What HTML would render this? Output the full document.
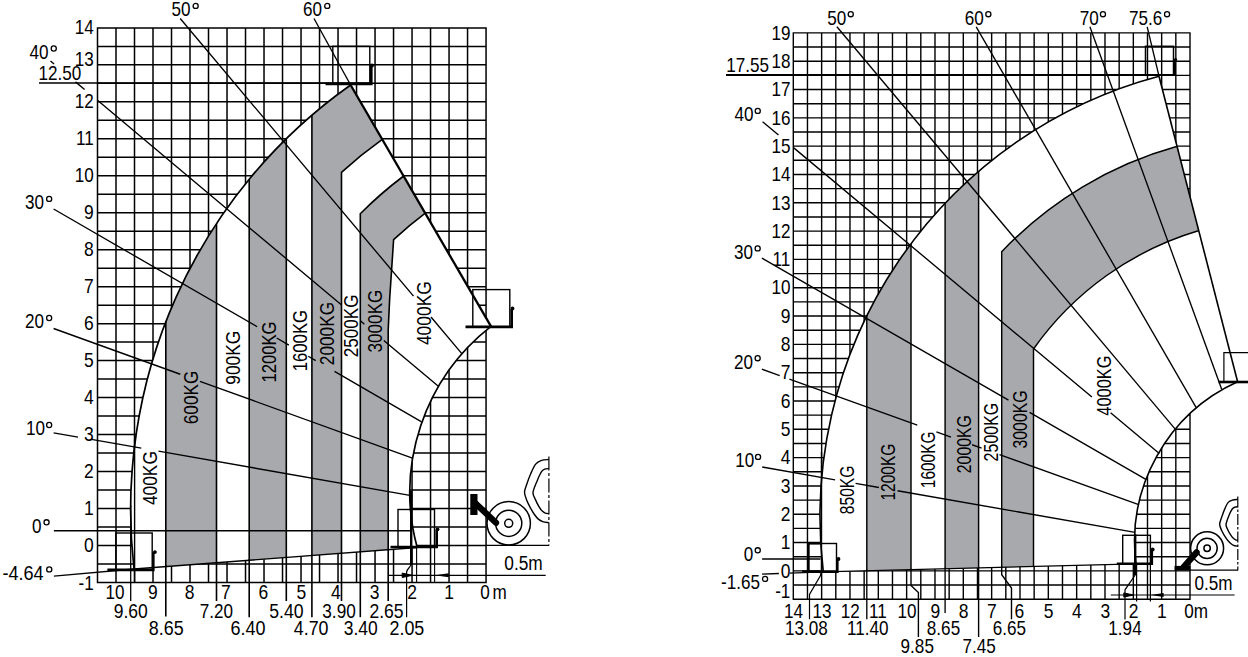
<!DOCTYPE html>
<html><head><meta charset="utf-8"><title>Load charts</title>
<style>html,body{margin:0;padding:0;background:#fff}svg{display:block}text{font-family:"Liberation Sans",sans-serif;font-size:18.8px}</style>
</head><body>
<svg width="1248" height="657" viewBox="0 0 1248 657" fill="none" stroke="#000" stroke-linecap="butt">
<path d="M97.5 27.9V582.4M116 27.9V582.4M134.5 27.9V582.4M153.01 27.9V582.4M171.51 27.9V582.4M190.01 27.9V582.4M208.51 27.9V582.4M227.02 27.9V582.4M245.52 27.9V582.4M264.02 27.9V582.4M282.52 27.9V582.4M301.03 27.9V582.4M319.53 27.9V582.4M338.03 27.9V582.4M356.53 27.9V582.4M375.04 27.9V582.4M393.54 27.9V582.4M412.04 27.9V582.4M430.54 27.9V582.4M449.05 27.9V582.4M467.55 27.9V582.4M486.05 27.9V582.4M97.5 27.9H486.05M97.5 46.38H486.05M97.5 64.87H486.05M97.5 83.35H486.05M97.5 101.83H486.05M97.5 120.32H486.05M97.5 138.8H486.05M97.5 157.28H486.05M97.5 175.77H486.05M97.5 194.25H486.05M97.5 212.73H486.05M97.5 231.22H486.05M97.5 249.7H486.05M97.5 268.18H486.05M97.5 286.67H486.05M97.5 305.15H486.05M97.5 323.63H486.05M97.5 342.12H486.05M97.5 360.6H486.05M97.5 379.08H486.05M97.5 397.57H486.05M97.5 416.05H486.05M97.5 434.53H486.05M97.5 453.02H486.05M97.5 471.5H486.05M97.5 489.98H486.05M97.5 508.47H486.05M97.5 526.95H486.05M97.5 545.43H486.05M97.5 563.92H486.05M97.5 582.4H486.05" stroke-width="1.5" stroke-linecap="square"/>
<clipPath id="cl"><path d="M350.6 85A520.2 520.2 0 0 0 134 569L417.2 547.5A210.7 210.7 0 0 1 491 326.3Z"/></clipPath>
<path d="M350.6 85A520.2 520.2 0 0 0 134 569L417.2 547.5A210.7 210.7 0 0 1 491 326.3Z" fill="#fff" stroke="none"/>
<g clip-path="url(#cl)" fill="#a7a9ac" stroke="none">
<rect x="165.8" y="0" width="50.7" height="657"/>
<rect x="249.2" y="0" width="37.1" height="657"/>
<path d="M311.9 657V0H560L412 90L382.3 139.4A450 450 0 0 0 341.5 172.3V657Z"/>
<path d="M360.3 657V213.7A406 406 0 0 1 403 176.5L440 160L460 200L425.6 212.8A364 364 0 0 0 393.6 239.7L389.6 300L388.2 330V657Z"/>
</g>
<path d="M165.8 60V616.5M216.5 60V601M249.2 60V617.3M286.3 60V601M311.9 60V617.3" stroke-width="1.6" clip-path="url(#cl)"/>
<path d="M165.8 565.59V616.5M216.5 561.74V601M249.2 559.25V617.3M286.3 556.44V601M311.9 554.49V617.3M341.5 552.25V601M360.3 550.82V617.3M388.2 548.7V601" stroke-width="1.6"/>
<path d="M341.5 657V172.3A450 450 0 0 1 382.3 139.4" stroke-width="1.6" clip-path="url(#cl)"/>
<path d="M360.3 657V213.7A406 406 0 0 1 403 176.5" stroke-width="1.6" clip-path="url(#cl)"/>
<path d="M388.2 657V330L389.6 300L393.6 239.7A364 364 0 0 1 425.6 212.8" stroke-width="1.6" clip-path="url(#cl)"/>
<path d="M314 18.5L350.6 85" stroke-width="1.35"/>
<path d="M180.2 18.5L413.5 296.12M431 316.95L461.8 353.6" stroke-width="1.35"/>
<path d="M50.5 60.9L54.1 63.92M75.5 81.87L84.6 89.5M97.5 100.32L341.3 304.81M360.7 321.08L364.4 324.18M383.8 340.45L438.7 386.5" stroke-width="1.35"/>
<path d="M53.6 209L257.2 326.73M276.7 338.01L288.9 345.06M308.3 356.28L315.7 360.56M334.5 371.43L421.6 421.8" stroke-width="1.35"/>
<path d="M53.6 328.5L180.3 374.25M199.9 381.32L413.1 458.3" stroke-width="1.35"/>
<path d="M53.6 432.8L78 437.08M91.4 439.43L141.3 448.18M158.5 451.2L409.9 495.3" stroke-width="1.35"/>
<path d="M53.9 530.7L411.5 530.7" stroke-width="1.5"/>
<path d="M53.9 576.1L134 569" stroke-width="1.35"/>
<path d="M39 83L371 83" stroke-width="1.5"/>
<path d="M350.6 85A520.2 520.2 0 0 0 134 569" stroke-width="1.7"/>
<path d="M134 569L417.2 547.5" stroke-width="1.3"/>
<path d="M417.2 547.5A210.7 210.7 0 0 1 491 326.3" stroke-width="1.7"/>
<path d="M350.6 85L491 326.3" stroke-width="2.3"/>
<rect x="332.8" y="46.3" width="37" height="37.7" stroke-width="1.4"/>
<path d="M325.5 84L371.3 84L371.3 65.8" stroke-width="2.6" stroke-linejoin="miter"/>
<circle cx="372" cy="65.5" r="1.9" fill="#000" stroke="none"/>
<rect x="472.8" y="289.6" width="37" height="37.3" stroke-width="1.4"/>
<path d="M465.5 326.9L511.7 326.9L511.7 309" stroke-width="2.6" stroke-linejoin="miter"/>
<circle cx="512.5" cy="308.4" r="1.9" fill="#000" stroke="none"/>
<rect x="115.9" y="533" width="36.3" height="36.9" stroke-width="1.4"/>
<path d="M107.4 569.9L153.3 569.9L153.3 552.3" stroke-width="2.6" stroke-linejoin="miter"/>
<circle cx="154.9" cy="552.1" r="1.9" fill="#000" stroke="none"/>
<rect x="398" y="509.5" width="36.5" height="37.5" stroke-width="1.4"/>
<path d="M390.5 547L436.7 547L436.7 529.9" stroke-width="2.6" stroke-linejoin="miter"/>
<circle cx="437.5" cy="529.3" r="1.9" fill="#000" stroke="none"/>
<path d="M130.7 505L130.7 601" stroke-width="1.3"/>
<path d="M134.6 440L134.6 582.4" stroke-width="1.4"/>
<path d="M411.2 491V565" stroke-width="2.4"/>
<path d="M411.2 564C411 567 407 568.5 406.6 572V617.3" stroke-width="1.2"/>
<path d="M416.6 547.5L416.6 582.2" stroke-width="1.1"/>
<path d="M434.6 547L434.6 582.2" stroke-width="1.1"/>
<path d="M388.6 575.3L545.7 575.3" stroke-width="1.2"/>
<path d="M402.2 573.1L412.4 575.3L402.2 577.5Z" fill="#000" stroke-width="1"/>
<path d="M434.8 575.3L448.7 573.3V577.3Z" fill="#000" stroke="none"/>
<path d="M486 545.4L549 545.4" stroke-width="1.2"/>
<circle cx="508.7" cy="523.3" r="21.7" stroke-width="1.5"/>
<circle cx="508.7" cy="523.3" r="13.1" stroke-width="1.5"/>
<circle cx="508.7" cy="523.3" r="4.0" stroke-width="1.5"/>
<rect x="470.3" y="494" width="7.2" height="21" fill="#000" stroke="none"/>
<path d="M474.6 502.5L496 522.8" stroke-width="6.3" stroke-linecap="round"/>
<path d="M548.85 459.47C547.63 459.64 543.78 459.64 541.55 460.45C539.32 461.26 537.29 462.07 535.46 464.34C533.64 466.61 532.01 470.83 530.59 474.08C529.17 477.33 527.96 480.77 526.94 483.82C525.93 486.86 524.51 489.5 524.51 492.34C524.51 495.18 525.93 498.22 526.94 500.86C527.96 503.49 529.38 505.93 530.59 508.16C531.81 510.39 532.95 512.42 534.25 514.25C535.54 516.07 536.96 517.9 538.38 519.11C539.8 520.33 541.02 520.94 542.77 521.55C544.51 522.16 547.84 522.56 548.85 522.77" stroke-width="1.4"/>
<path d="M548.85 468.48C548.16 468.6 545.93 468.68 544.71 469.21C543.5 469.74 542.77 469.82 541.55 471.65C540.33 473.47 538.83 476.72 537.41 480.17C535.99 483.61 533.35 489.09 533.03 492.34C532.7 495.58 534.45 497.21 535.46 499.64C536.48 502.07 537.98 505.04 539.11 506.94C540.25 508.85 541.26 510.07 542.28 511.08C543.29 512.1 544.1 512.58 545.2 513.03C546.3 513.47 548.24 513.64 548.85 513.76" stroke-width="1.4"/>
<path d="M548.9 456.6V545.4" stroke-width="1.2" stroke-dasharray="14 2.5 3 2.5"/>
<g fill="#000" stroke="none">
<text transform="translate(74.81,33.6) scale(0.9100,1.03)">14</text>
<text transform="translate(74.81,65.9) scale(0.9100,1.03)">13</text>
<text transform="translate(74.81,108.49) scale(0.9100,1.03)">12</text>
<text transform="translate(76.01,145.46) scale(0.9100,1.03)">11</text>
<text transform="translate(74.81,182.43) scale(0.9100,1.03)">10</text>
<text transform="translate(84.1,219.4) scale(0.9300,1.03)">9</text>
<text transform="translate(84.1,256.37) scale(0.9300,1.03)">8</text>
<text transform="translate(84.1,293.34) scale(0.9300,1.03)">7</text>
<text transform="translate(84.1,330.31) scale(0.9300,1.03)">6</text>
<text transform="translate(84.1,367.28) scale(0.9300,1.03)">5</text>
<text transform="translate(84.1,404.25) scale(0.9300,1.03)">4</text>
<text transform="translate(84.1,441.22) scale(0.9300,1.03)">3</text>
<text transform="translate(84.1,478.19) scale(0.9300,1.03)">2</text>
<text transform="translate(84.1,515.16) scale(0.9300,1.03)">1</text>
<text transform="translate(84.1,552.13) scale(0.9300,1.03)">0</text>
<text transform="translate(78.57,590.3) scale(0.9100,1.03)">-1</text>
<text transform="translate(105.51,599.4) scale(0.9100,1.03)">10</text>
<text transform="translate(147.95,599.4) scale(0.9300,1.03)">9</text>
<text transform="translate(184.75,599.4) scale(0.9300,1.03)">8</text>
<text transform="translate(221.05,599.4) scale(0.9300,1.03)">7</text>
<text transform="translate(258.55,599.4) scale(0.9300,1.03)">6</text>
<text transform="translate(296.45,599.4) scale(0.9300,1.03)">5</text>
<text transform="translate(331.05,599.4) scale(0.9300,1.03)">4</text>
<text transform="translate(369.65,599.4) scale(0.9300,1.03)">3</text>
<text transform="translate(407.35,599.4) scale(0.9300,1.03)">2</text>
<text transform="translate(444.15,599.4) scale(0.9300,1.03)">1</text>
<text transform="translate(480.25,599.4) scale(0.9100,1.03)">0</text>
<text transform="translate(492.61,599.4) scale(0.9100,1.03)">m</text>
<text transform="translate(113.7,618.2) scale(0.9326,1.03)">9.60</text>
<text transform="translate(199.71,618.2) scale(0.9100,1.03)">7.20</text>
<text transform="translate(269.2,618.2) scale(0.9380,1.03)">5.40</text>
<text transform="translate(322.3,618.2) scale(0.9162,1.03)">3.90</text>
<text transform="translate(369.4,618.2) scale(0.9353,1.03)">2.65</text>
<text transform="translate(148.8,634.6) scale(0.9517,1.03)">8.65</text>
<text transform="translate(230.4,634.6) scale(0.9572,1.03)">6.40</text>
<text transform="translate(293.8,634.6) scale(0.9490,1.03)">4.70</text>
<text transform="translate(343.8,634.6) scale(0.9298,1.03)">3.40</text>
<text transform="translate(389.5,634.6) scale(0.9517,1.03)">2.05</text>
<text transform="translate(504.3,570.2) scale(0.9204,1.03)">0.5m</text>
<circle cx="195.65" cy="5.9" r="2.55" fill="none" stroke="#000" stroke-width="1.3"/>
<text transform="translate(171.46,16.2) scale(0.9100,1.03)">50</text>
<circle cx="327.25" cy="5.9" r="2.55" fill="none" stroke="#000" stroke-width="1.3"/>
<text transform="translate(303.11,16.2) scale(0.9100,1.03)">60</text>
<circle cx="53.75" cy="48.5" r="2.55" fill="none" stroke="#000" stroke-width="1.3"/>
<text transform="translate(29.51,58.8) scale(0.9100,1.03)">40</text>
<text transform="translate(38.57,80) scale(0.9100,1.03)">12.50</text>
<circle cx="49.15" cy="198.9" r="2.55" fill="none" stroke="#000" stroke-width="1.3"/>
<text transform="translate(24.91,209.2) scale(0.9100,1.03)">30</text>
<circle cx="49.15" cy="318" r="2.55" fill="none" stroke="#000" stroke-width="1.3"/>
<text transform="translate(24.91,328.3) scale(0.9100,1.03)">20</text>
<circle cx="49.15" cy="425" r="2.55" fill="none" stroke="#000" stroke-width="1.3"/>
<text transform="translate(25.91,435.3) scale(0.9100,1.03)">10</text>
<circle cx="46.55" cy="522.3" r="2.55" fill="none" stroke="#000" stroke-width="1.3"/>
<text transform="translate(32,532.6) scale(0.9100,1.03)">0</text>
<circle cx="49.25" cy="569.4" r="2.55" fill="none" stroke="#000" stroke-width="1.3"/>
<text transform="translate(2.4,579.7) scale(0.9635,1.03)">-4.64</text>
<text transform="translate(157.4,505) rotate(-90) scale(0.9204,1.09)">400KG</text>
<text transform="translate(197.8,424.2) rotate(-90) scale(0.9153,1.09)">600KG</text>
<text transform="translate(240.2,384.7) rotate(-90) scale(0.9238,1.09)">900KG</text>
<text transform="translate(275.8,382.5) rotate(-90) scale(0.8856,1.09)">1200KG</text>
<text transform="translate(306.8,371.3) rotate(-90) scale(0.8899,1.09)">1600KG</text>
<text transform="translate(333.6,365.2) rotate(-90) scale(0.9174,1.09)">2000KG</text>
<text transform="translate(358.2,357.2) rotate(-90) scale(0.9087,1.09)">2500KG</text>
<text transform="translate(382.4,352.4) rotate(-90) scale(0.9102,1.09)">3000KG</text>
<text transform="translate(431,345.1) rotate(-90) scale(0.9276,1.09)">4000KG</text>
</g>
<path d="M793.3 32.9V599.2M807.47 32.9V599.2M821.64 32.9V599.2M835.8 32.9V599.2M849.97 32.9V599.2M864.14 32.9V599.2M878.31 32.9V599.2M892.48 32.9V599.2M906.64 32.9V599.2M920.81 32.9V599.2M934.98 32.9V599.2M949.15 32.9V599.2M963.31 32.9V599.2M977.48 32.9V599.2M991.65 32.9V599.2M1005.82 32.9V599.2M1019.99 32.9V599.2M1034.15 32.9V599.2M1048.32 32.9V599.2M1062.49 32.9V599.2M1076.66 32.9V599.2M1090.83 32.9V599.2M1104.99 32.9V599.2M1119.16 32.9V599.2M1133.33 32.9V599.2M1147.5 32.9V599.2M1161.66 32.9V599.2M1175.83 32.9V599.2M1190 32.9V599.2M793.3 32.9H1190M793.3 47.06H1190M793.3 61.22H1190M793.3 75.37H1190M793.3 89.53H1190M793.3 103.69H1190M793.3 117.84H1190M793.3 132H1190M793.3 146.16H1190M793.3 160.32H1190M793.3 174.48H1190M793.3 188.63H1190M793.3 202.79H1190M793.3 216.95H1190M793.3 231.11H1190M793.3 245.26H1190M793.3 259.42H1190M793.3 273.58H1190M793.3 287.74H1190M793.3 301.89H1190M793.3 316.05H1190M793.3 330.21H1190M793.3 344.37H1190M793.3 358.52H1190M793.3 372.68H1190M793.3 386.84H1190M793.3 401H1190M793.3 415.15H1190M793.3 429.31H1190M793.3 443.47H1190M793.3 457.63H1190M793.3 471.78H1190M793.3 485.94H1190M793.3 500.1H1190M793.3 514.25H1190M793.3 528.41H1190M793.3 542.57H1190M793.3 556.73H1190M793.3 570.88H1190M793.3 585.04H1190M793.3 599.2H1190" stroke-width="1.4" stroke-linecap="square"/>
<clipPath id="cr"><path d="M1159 76.2A456.3 456.3 0 0 0 823.3 571.9L1136 563.8A175.6 175.6 0 0 1 1237.6 381.7Z"/></clipPath>
<path d="M1159 76.2A456.3 456.3 0 0 0 823.3 571.9L1136 563.8A175.6 175.6 0 0 1 1237.6 381.7Z" fill="#fff" stroke="none"/>
<g clip-path="url(#cr)" fill="#a7a9ac" stroke="none">
<rect x="866.8" y="0" width="44.2" height="657"/>
<rect x="945.1" y="0" width="33.5" height="657"/>
<path d="M1001.7 657V251.7A383.4 383.4 0 0 1 1177.3 146.3L1215 140L1235 228L1199.1 230.5A310.4 310.4 0 0 0 1033.5 349V657Z"/>
</g>
<path d="M866.8 60V657M911 60V657M945.1 60V657M978.6 60V657" stroke-width="1.45" clip-path="url(#cr)"/>
<path d="M1001.7 657V251.7A383.4 383.4 0 0 1 1177.3 146.3L1190 143" stroke-width="1.45" clip-path="url(#cr)"/>
<path d="M1033.5 657V349A310.4 310.4 0 0 1 1199.1 230.5L1215 227" stroke-width="1.45" clip-path="url(#cr)"/>
<path d="M866.8 569.77L866.8 619.3" stroke-width="1.35"/>
<path d="M911 568.63V585.4L918.4 592.5V637" stroke-width="1.4"/>
<path d="M945.1 567.74L945.1 613" stroke-width="1.35"/>
<path d="M978.6 566.88L978.6 637" stroke-width="1.4"/>
<path d="M1001.7 566.28V574.7L1011.5 588.1V619.3" stroke-width="1.4"/>
<path d="M1147.2 26.8L1159 76.2" stroke-width="1.35"/>
<path d="M1089.9 26.8L1221.7 389.3" stroke-width="1.35"/>
<path d="M976.2 26.8L1196.2 407.7" stroke-width="1.35"/>
<path d="M836.9 26.8L1175.2 429.1" stroke-width="1.35"/>
<path d="M762.6 121.8L778.5 135.09M793.8 147.88L1091.9 397.06M1110.6 412.69L1159.3 453.4" stroke-width="1.35"/>
<path d="M761.9 258.1L1008.5 400.2M1029.6 412.35L1146.3 479.6" stroke-width="1.35"/>
<path d="M761.9 369.2L779.7 375.6M789.4 379.09L917.3 425.06M936.4 431.93L951 437.18M972.1 444.76L981.6 448.18M999.5 454.61L1138 504.4" stroke-width="1.35"/>
<path d="M762.2 467L835.1 479.79M855.6 483.38L878.9 487.47M897.5 490.73L1135.1 532.4" stroke-width="1.35"/>
<path d="M762.1 559L820.5 559" stroke-width="1.4"/>
<path d="M762.1 574.1L778.9 573.5M790 573.1L823.3 571.9" stroke-width="1.35"/>
<path d="M726 74.9L1176 74.9" stroke-width="2.0"/>
<path d="M1159 76.2A456.3 456.3 0 0 0 823.3 571.9" stroke-width="1.6"/>
<path d="M823.3 571.9L1136 563.8" stroke-width="1.3"/>
<path d="M1136 563.8A175.6 175.6 0 0 1 1237.6 381.7" stroke-width="1.6"/>
<path d="M1159 76.2L1237.6 381.7" stroke-width="1.6"/>
<rect x="1145.5" y="46.3" width="28" height="28.5" stroke-width="1.5"/>
<path d="M1174.7 59.7V75" stroke-width="2.6"/>
<circle cx="1175.5" cy="59.5" r="1.6" fill="#000" stroke="none"/>
<path d="M1250 352.6H1223.9V381.8" stroke-width="1.2"/>
<path d="M1218.6 382H1250" stroke-width="2.6"/>
<rect x="808.5" y="543.5" width="28" height="28.1" stroke-width="1.4"/>
<path d="M802.1 571.6L837.3 571.6L837.3 559" stroke-width="2.6" stroke-linejoin="miter"/>
<circle cx="838.5" cy="559" r="1.9" fill="#000" stroke="none"/>
<path d="M808.5 543.5H821M808.5 543.5V571.6" stroke-width="2.2"/>
<rect x="1122.7" y="535.3" width="27.7" height="28.5" stroke-width="1.4"/>
<path d="M1116.8 563.8L1151.8 563.8L1151.8 549.8" stroke-width="2.6" stroke-linejoin="miter"/>
<circle cx="1152.7" cy="549.5" r="1.9" fill="#000" stroke="none"/>
<path d="M821.5 452V572" stroke-width="1.4"/>
<path d="M821 572L820.5 575.5L809.5 594.5V619.3" stroke-width="1.2"/>
<path d="M1135.2 534V575.2" stroke-width="2.4"/>
<path d="M1135.2 575L1125 589.8V619.5" stroke-width="1.2"/>
<path d="M1136.6 563.8L1136.6 601.5" stroke-width="1.2"/>
<path d="M1150.4 563.6L1150.4 601.5" stroke-width="1.2"/>
<path d="M1110.8 595L1234.6 595" stroke-width="1.2"/>
<path d="M1123.8 592.9L1133.6 595L1123.8 597.1Z" fill="#000" stroke-width="1"/>
<path d="M1150.9 595L1163.6 593.1V596.9Z" fill="#000" stroke="none"/>
<path d="M1190.1 570.2L1238 570.2" stroke-width="1.2"/>
<circle cx="1207.1" cy="548.3" r="16.5" stroke-width="1.5"/>
<circle cx="1207.1" cy="548.3" r="10.1" stroke-width="1.5"/>
<circle cx="1207.1" cy="548.3" r="3.2" stroke-width="1.5"/>
<rect x="1174.5" y="565.9" width="15.8" height="4.6" fill="#000" stroke="none"/>
<path d="M1196.6 552.3L1183.6 567" stroke-width="6.3" stroke-linecap="round"/>
<path d="M1237.78 499.41C1236.96 499.51 1234.47 499.55 1232.87 500.04C1231.28 500.54 1229.5 501 1228.19 502.39C1226.87 503.77 1226.06 505.94 1224.99 508.35C1223.92 510.77 1222.68 514.21 1221.79 516.88C1220.91 519.54 1219.66 522.03 1219.66 524.34C1219.66 526.64 1220.73 528.42 1221.79 530.73C1222.86 533.04 1224.71 536.16 1226.06 538.19C1227.41 540.21 1228.65 541.67 1229.89 542.87C1231.13 544.08 1232.2 544.86 1233.51 545.43C1234.83 546 1237.07 546.14 1237.78 546.28" stroke-width="1.4"/>
<path d="M1237.78 506.65C1237.31 506.72 1235.89 506.72 1235.01 507.08C1234.12 507.43 1233.41 507.5 1232.45 508.78C1231.49 510.06 1230.32 512.15 1229.25 514.75C1228.19 517.34 1226.3 521.85 1226.06 524.34C1225.81 526.82 1227.05 527.99 1227.76 529.66C1228.47 531.33 1229.47 533 1230.32 534.35C1231.17 535.7 1231.99 536.84 1232.87 537.76C1233.76 538.68 1234.83 539.47 1235.64 539.89C1236.46 540.32 1237.42 540.25 1237.78 540.32" stroke-width="1.4"/>
<path d="M1237.8 496.6V570.2" stroke-width="1.2" stroke-dasharray="11 2 2.5 2"/>
<g fill="#000" stroke="none">
<text transform="translate(771.41,39.61) scale(0.9100,1.03)">19</text>
<text transform="translate(771.41,67.93) scale(0.9100,1.03)">18</text>
<text transform="translate(771.41,96.24) scale(0.9100,1.03)">17</text>
<text transform="translate(771.41,124.56) scale(0.9100,1.03)">16</text>
<text transform="translate(771.41,152.87) scale(0.9100,1.03)">15</text>
<text transform="translate(771.41,181.19) scale(0.9100,1.03)">14</text>
<text transform="translate(771.41,209.5) scale(0.9100,1.03)">13</text>
<text transform="translate(771.41,237.82) scale(0.9100,1.03)">12</text>
<text transform="translate(772.61,266.13) scale(0.9100,1.03)">11</text>
<text transform="translate(771.41,294.45) scale(0.9100,1.03)">10</text>
<text transform="translate(780.7,322.76) scale(0.9300,1.03)">9</text>
<text transform="translate(780.7,351.08) scale(0.9300,1.03)">8</text>
<text transform="translate(780.7,379.39) scale(0.9300,1.03)">7</text>
<text transform="translate(780.7,407.71) scale(0.9300,1.03)">6</text>
<text transform="translate(780.7,436.02) scale(0.9300,1.03)">5</text>
<text transform="translate(780.7,464.34) scale(0.9300,1.03)">4</text>
<text transform="translate(780.7,492.65) scale(0.9300,1.03)">3</text>
<text transform="translate(780.7,520.97) scale(0.9300,1.03)">2</text>
<text transform="translate(780.7,549.28) scale(0.9300,1.03)">1</text>
<text transform="translate(780.7,577.6) scale(0.9300,1.03)">0</text>
<text transform="translate(775.17,598.2) scale(0.9100,1.03)">-1</text>
<text transform="translate(784.1,617.6) scale(0.9100,1.03)">14</text>
<text transform="translate(812.44,617.6) scale(0.9100,1.03)">13</text>
<text transform="translate(840.77,617.6) scale(0.9100,1.03)">12</text>
<text transform="translate(869.1,617.6) scale(0.9100,1.03)">11</text>
<text transform="translate(897.45,617.6) scale(0.9100,1.03)">10</text>
<text transform="translate(930.42,617.6) scale(0.9300,1.03)">9</text>
<text transform="translate(958.76,617.6) scale(0.9300,1.03)">8</text>
<text transform="translate(987.1,617.6) scale(0.9300,1.03)">7</text>
<text transform="translate(1014.55,617.6) scale(0.9300,1.03)">6</text>
<text transform="translate(1043.77,617.6) scale(0.9300,1.03)">5</text>
<text transform="translate(1072.1,617.6) scale(0.9300,1.03)">4</text>
<text transform="translate(1100.44,617.6) scale(0.9300,1.03)">3</text>
<text transform="translate(1128.78,617.6) scale(0.9300,1.03)">2</text>
<text transform="translate(1157.11,617.6) scale(0.9300,1.03)">1</text>
<text transform="translate(1184.16,617.8) scale(0.9100,1.03)">0m</text>
<text transform="translate(785.07,634.6) scale(0.9100,1.03)">13.08</text>
<text transform="translate(847.06,634.6) scale(0.9100,1.03)">11.40</text>
<text transform="translate(926.86,634.6) scale(0.9100,1.03)">8.65</text>
<text transform="translate(992.71,634.6) scale(0.9100,1.03)">6.65</text>
<text transform="translate(1108.36,634.9) scale(0.9100,1.03)">1.94</text>
<text transform="translate(900.61,652.6) scale(0.9100,1.03)">9.85</text>
<text transform="translate(962.51,652.6) scale(0.9100,1.03)">7.45</text>
<text transform="translate(1194.52,590.4) scale(0.9100,1.03)">0.5m</text>
<circle cx="850.75" cy="14.2" r="2.55" fill="none" stroke="#000" stroke-width="1.3"/>
<text transform="translate(827.31,24.5) scale(0.9100,1.03)">50</text>
<circle cx="988.35" cy="14.2" r="2.55" fill="none" stroke="#000" stroke-width="1.3"/>
<text transform="translate(964.76,24.5) scale(0.9100,1.03)">60</text>
<circle cx="1102.95" cy="14.2" r="2.55" fill="none" stroke="#000" stroke-width="1.3"/>
<text transform="translate(1079.66,24.5) scale(0.9100,1.03)">70</text>
<circle cx="1167.05" cy="14.2" r="2.55" fill="none" stroke="#000" stroke-width="1.3"/>
<text transform="translate(1128.91,24.5) scale(0.9100,1.03)">75.6</text>
<text transform="translate(726.22,72.4) scale(0.9100,1.03)">17.55</text>
<circle cx="757.75" cy="110.9" r="2.55" fill="none" stroke="#000" stroke-width="1.3"/>
<text transform="translate(734.51,121.2) scale(0.9100,1.03)">40</text>
<circle cx="757.65" cy="248.4" r="2.55" fill="none" stroke="#000" stroke-width="1.3"/>
<text transform="translate(734.11,258.7) scale(0.9100,1.03)">30</text>
<circle cx="757.65" cy="358.2" r="2.55" fill="none" stroke="#000" stroke-width="1.3"/>
<text transform="translate(734.11,368.5) scale(0.9100,1.03)">20</text>
<circle cx="758.05" cy="456.9" r="2.55" fill="none" stroke="#000" stroke-width="1.3"/>
<text transform="translate(735.36,467.2) scale(0.9100,1.03)">10</text>
<circle cx="757.75" cy="550.3" r="2.55" fill="none" stroke="#000" stroke-width="1.3"/>
<text transform="translate(743.7,560.6) scale(0.9100,1.03)">0</text>
<circle cx="765.05" cy="578.9" r="2.55" fill="none" stroke="#000" stroke-width="1.3"/>
<text transform="translate(721,589.2) scale(0.9100,1.03)">-1.65</text>
<text transform="translate(853.8,514.2) rotate(-90) scale(0.8316,1.09)">850KG</text>
<text transform="translate(894.9,500.5) rotate(-90) scale(0.8247,1.09)">1200KG</text>
<text transform="translate(935.2,488.2) rotate(-90) scale(0.8218,1.09)">1600KG</text>
<text transform="translate(970.8,473.2) rotate(-90) scale(0.8421,1.09)">2000KG</text>
<text transform="translate(998.2,461.4) rotate(-90) scale(0.8508,1.09)">2500KG</text>
<text transform="translate(1027,448.5) rotate(-90) scale(0.8421,1.09)">3000KG</text>
<text transform="translate(1110.5,415.7) rotate(-90) scale(0.8725,1.09)">4000KG</text>
</g>
</svg>
</body></html>
